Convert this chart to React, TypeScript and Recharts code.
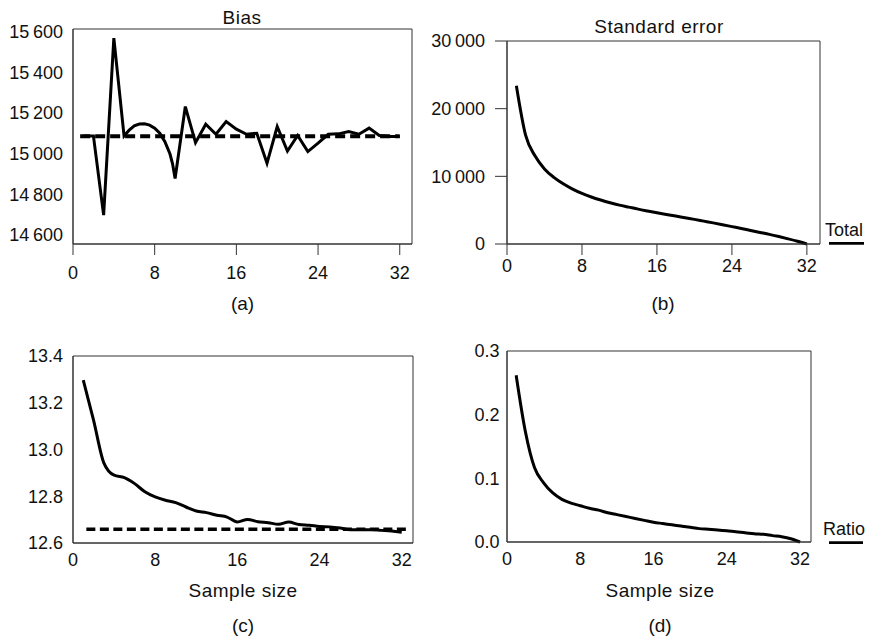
import React from "react";
import {
  LineChart,
  Line,
  XAxis,
  YAxis,
  ReferenceLine,
  ReferenceArea,
} from "recharts";

const FONT = '"Liberation Sans", Arial, Helvetica, sans-serif';

// sample sizes 1..32
const sampleSizes = [
  1, 2, 3, 4, 5, 6, 7, 8, 9, 10, 11, 12, 13, 14, 15, 16, 17, 18, 19, 20, 21, 22,
  23, 24, 25, 26, 27, 28, 29, 30, 31, 32,
];

// (a) bias - the stretch 5..10 is a smooth arc, so it is read at half steps
const biasSizes = [
  1, 2, 3, 4, 5, 5.5, 6, 6.5, 7, 7.5, 8, 8.5, 9, 9.5, 9.75, 10, 11, 12, 13, 14,
  15, 16, 17, 18, 19, 20, 21, 22, 23, 24, 25, 26, 27, 28, 29, 30, 31, 32,
];
const biasValues = [
  15087, 15087, 14698, 15567, 15087, 15115, 15136, 15145, 15146, 15140, 15125,
  15100, 15058, 14998, 14950, 14878, 15231, 15054, 15144, 15095, 15157, 15120,
  15095, 15100, 14953, 15133, 15013, 15089, 15010, 15051, 15095, 15097, 15108,
  15095, 15125, 15089, 15084, 15084,
];
const biasTrue = 15085;

// (b) standard error of the total
const seTotal = [
  23400, 16000, 13000, 11100, 9850, 8900, 8120, 7480, 6950, 6500, 6100, 5750,
  5450, 5150, 4880, 4620, 4370, 4130, 3880, 3640, 3380, 3120, 2850, 2570, 2290,
  2000, 1710, 1420, 1100, 760, 400, 0,
];

// (c) estimate vs sample size
const meanValues = [
  13.297, 13.126, 12.943, 12.89, 12.88, 12.854, 12.819, 12.797, 12.783, 12.773,
  12.754, 12.737, 12.73, 12.719, 12.711, 12.69, 12.701, 12.691, 12.687, 12.68,
  12.69, 12.679, 12.676, 12.671, 12.669, 12.664, 12.657, 12.657, 12.657, 12.654,
  12.651, 12.646,
];
const meanTrue = 12.659;

// (d) standard error of the ratio
const seRatio = [
  0.262, 0.174, 0.117, 0.093, 0.077, 0.067, 0.061, 0.057, 0.053, 0.05, 0.046,
  0.043, 0.04, 0.037, 0.034, 0.031, 0.029, 0.027, 0.025, 0.023, 0.021, 0.02,
  0.019, 0.0177, 0.016, 0.0146, 0.013, 0.012, 0.01, 0.0083, 0.0052, 0,
];

const xTicks = [0, 8, 16, 24, 32];
const biasTicks = [14600, 14800, 15000, 15200, 15400, 15600];
const seTicks = [0, 10000, 20000, 30000];
const meanTicks = [12.6, 12.8, 13.0, 13.2, 13.4];
const ratioTicks = [0, 0.1, 0.2, 0.3];

const biasData = biasSizes.map((n, i) => ({ n, v: biasValues[i] }));
const seData = sampleSizes.map((n, i) => ({ n, v: seTotal[i] }));
const meanData = sampleSizes.map((n, i) => ({ n, v: meanValues[i] }));
const ratioData = sampleSizes.map((n, i) => ({ n, v: seRatio[i] }));

const tickStyle = { fill: "#111", fontSize: 18, fontFamily: FONT };
const AXIS = "#333";

function thousands(v: number) {
  const s = String(Math.round(v));
  if (s.length < 5) return s;
  return s.slice(0, s.length - 3) + "\u2009" + s.slice(s.length - 3);
}

const oneDecimal = (v: number) => v.toFixed(1);

export default function App() {
  return (
    <div
      style={{
        position: "absolute",
        left: 0,
        top: 0,
        width: 875,
        height: 640,
        background: "#fff",
        fontFamily: FONT,
      }}
    >
      {/* (a) Bias */}
      <div style={{ position: "absolute", left: 0, top: 0 }}>
        <LineChart
          width={430}
          height={300}
          data={biasData}
          margin={{ top: 29, right: 18, bottom: 0, left: 0 }}
        >
          <XAxis
            type="number"
            dataKey="n"
            domain={[0, 33.2]}
            ticks={xTicks}
            height={56}
            tick={tickStyle}
            tickSize={11}
            tickMargin={11}
            axisLine={{ stroke: AXIS }}
            tickLine={{ stroke: AXIS }}
          />
          <YAxis
            type="number"
            domain={[14556, 15612]}
            ticks={biasTicks}
            width={73}
            tick={tickStyle}
            tickFormatter={thousands}
            tickLine={false}
            tickSize={5}
            tickMargin={5}
            axisLine={{ stroke: AXIS }}
            allowDataOverflow
          />
          <ReferenceArea
            x1={0}
            x2={33.2}
            y1={14556}
            y2={15612}
            fill="none"
            stroke={AXIS}
            strokeWidth={1}
          />
          <ReferenceLine
            segment={[
              { x: 0.7, y: biasTrue },
              { x: 32, y: biasTrue },
            ]}
            stroke="#000"
            strokeWidth={4}
            strokeDasharray="10 5"
          />
          <Line
            type="linear"
            dataKey="v"
            stroke="#000"
            strokeWidth={3}
            dot={false}
            isAnimationActive={false}
          />
        </LineChart>
      </div>

      {/* (b) Standard error, total */}
      <div style={{ position: "absolute", left: 430, top: 0 }}>
        <LineChart
          width={445}
          height={300}
          data={seData}
          margin={{ top: 41, right: 55, bottom: 0, left: 0 }}
        >
          <XAxis
            type="number"
            dataKey="n"
            domain={[0, 33.4]}
            ticks={xTicks}
            height={56}
            tick={tickStyle}
            tickSize={11}
            tickMargin={4}
            axisLine={{ stroke: AXIS }}
            tickLine={{ stroke: AXIS }}
          />
          <YAxis
            type="number"
            domain={[0, 30000]}
            ticks={seTicks}
            width={77}
            tick={tickStyle}
            tickFormatter={thousands}
            tickSize={12}
            tickMargin={10}
            axisLine={{ stroke: AXIS }}
            tickLine={{ stroke: AXIS }}
          />
          <ReferenceArea
            x1={0}
            x2={33.4}
            y1={0}
            y2={30000}
            fill="none"
            stroke={AXIS}
            strokeWidth={1}
          />
          <Line
            type="monotone"
            dataKey="v"
            stroke="#000"
            strokeWidth={3}
            dot={false}
            isAnimationActive={false}
          />
        </LineChart>
      </div>

      {/* (c) */}
      <div style={{ position: "absolute", left: 0, top: 320 }}>
        <LineChart
          width={430}
          height={263}
          data={meanData}
          margin={{ top: 36, right: 17, bottom: 0, left: 0 }}
        >
          <XAxis
            type="number"
            dataKey="n"
            domain={[0, 33.1]}
            ticks={xTicks}
            height={40}
            tick={tickStyle}
            tickLine={false}
            tickSize={5}
            tickMargin={5}
            axisLine={{ stroke: AXIS }}
          />
          <YAxis
            type="number"
            domain={[12.6, 13.4]}
            ticks={meanTicks}
            width={73}
            tick={tickStyle}
            tickFormatter={oneDecimal}
            tickLine={false}
            tickSize={5}
            tickMargin={5}
            axisLine={{ stroke: AXIS }}
            allowDataOverflow
          />
          <ReferenceArea
            x1={0}
            x2={33.1}
            y1={12.6}
            y2={13.4}
            fill="none"
            stroke={AXIS}
            strokeWidth={1}
          />
          <ReferenceLine
            segment={[
              { x: 1.3, y: meanTrue },
              { x: 32.5, y: meanTrue },
            ]}
            stroke="#000"
            strokeWidth={3.5}
            strokeDasharray="9 4.5"
          />
          <Line
            type="monotone"
            dataKey="v"
            stroke="#000"
            strokeWidth={3}
            dot={false}
            isAnimationActive={false}
          />
        </LineChart>
      </div>

      {/* (d) Standard error, ratio */}
      <div style={{ position: "absolute", left: 430, top: 320 }}>
        <LineChart
          width={445}
          height={262}
          data={ratioData}
          margin={{ top: 31, right: 64, bottom: 0, left: 0 }}
        >
          <XAxis
            type="number"
            dataKey="n"
            domain={[0, 33.2]}
            ticks={xTicks}
            height={40}
            tick={tickStyle}
            tickLine={false}
            tickSize={5}
            tickMargin={5}
            axisLine={{ stroke: AXIS }}
          />
          <YAxis
            type="number"
            domain={[0, 0.3]}
            ticks={ratioTicks}
            width={77}
            tick={tickStyle}
            tickFormatter={oneDecimal}
            tickLine={false}
            tickSize={4}
            tickMargin={3.5}
            axisLine={{ stroke: AXIS }}
          />
          <ReferenceArea
            x1={0}
            x2={33.2}
            y1={0}
            y2={0.3}
            fill="none"
            stroke={AXIS}
            strokeWidth={1}
          />
          <Line
            type="monotone"
            dataKey="v"
            stroke="#000"
            strokeWidth={3}
            dot={false}
            isAnimationActive={false}
          />
        </LineChart>
      </div>

      {/* titles, panel letters and the small legends */}
      <svg
        width={875}
        height={640}
        style={{ position: "absolute", left: 0, top: 0, pointerEvents: "none" }}
        fontFamily={FONT}
        fontSize={19}
        fill="#111"
      >
        <text x={242} y={24} textAnchor="middle" letterSpacing={0.5}>
          Bias
        </text>
        <text x={659} y={33} textAnchor="middle" letterSpacing={0.5}>
          Standard error
        </text>
        <text x={242.5} y={310} textAnchor="middle">
          (a)
        </text>
        <text x={663} y={310} textAnchor="middle">
          (b)
        </text>
        <text x={243} y={597} textAnchor="middle" letterSpacing={0.5}>
          Sample size
        </text>
        <text x={660} y={597} textAnchor="middle" letterSpacing={0.5}>
          Sample size
        </text>
        <text x={243} y={632} textAnchor="middle">
          (c)
        </text>
        <text x={660} y={632} textAnchor="middle">
          (d)
        </text>

        <text x={825} y={236} fontSize={18}>
          Total
        </text>
        <line x1={829} x2={864} y1={243.3} y2={243.3} stroke="#000" strokeWidth={2.7} />
        <text x={823} y={535} fontSize={18}>
          Ratio
        </text>
        <line x1={829} x2={863} y1={542.7} y2={542.7} stroke="#000" strokeWidth={2.7} />
      </svg>
    </div>
  );
}
